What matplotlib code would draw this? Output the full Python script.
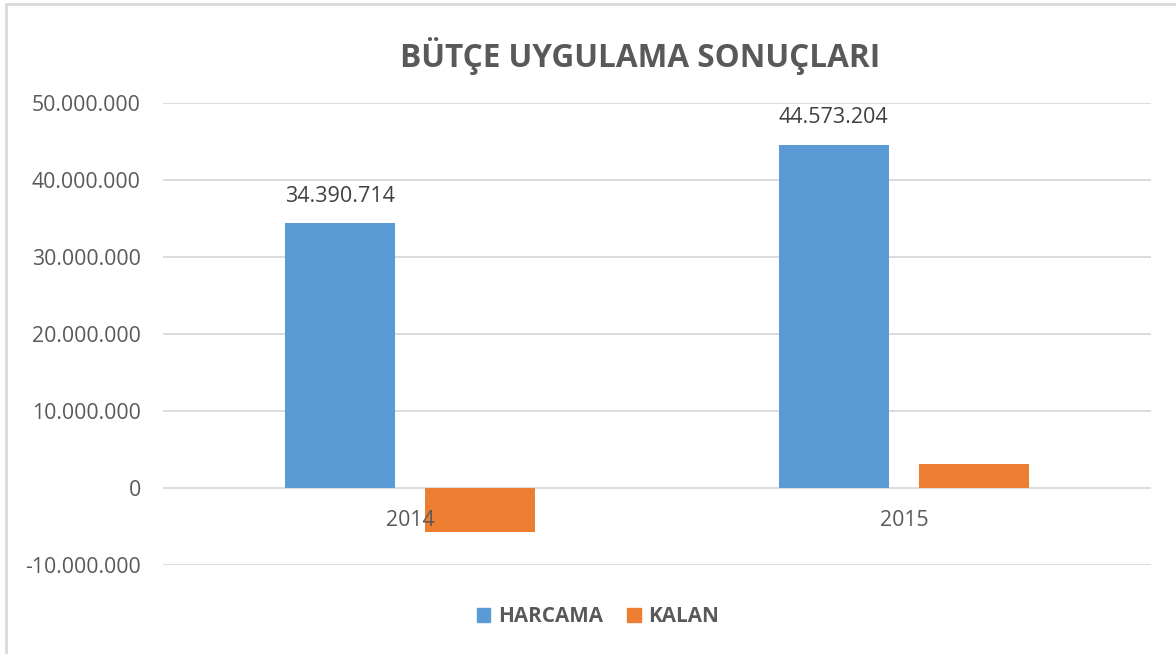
import matplotlib.pyplot as plt
from matplotlib.patches import Patch, Rectangle

years = ["2014", "2015"]
harcama = [34390714, 44573204]
kalan = [-5750000, 3120000]
yticks = [-10000000, 0, 10000000, 20000000, 30000000, 40000000, 50000000]

blue = "#5B9BD5"
orange = "#ED7D31"
grid_col = "#D9D9D9"
text_col = "#595959"

plt.rcParams['font.family'] = ['Open Sans', 'DejaVu Sans']


def fmt(v):
    return f"{v:,}".replace(",", ".")


W, H = 1176, 654
fig = plt.figure(figsize=(W / 100, H / 100), dpi=100)
ax = fig.add_axes([163 / W, (H - 564.6) / H, (1151 - 163) / W, (564.6 - 103.3) / H])
ax.set_axisbelow(False)

x = list(range(len(years)))
bw = 0.223
off = 0.1425
b1 = ax.bar([i - off for i in x], harcama, bw, color=blue, zorder=2)
b2 = ax.bar([i + off for i in x], kalan, bw, color=orange, zorder=2)

for rect, v in zip(b1, harcama):
    ax.annotate(fmt(v), (rect.get_x() + rect.get_width() / 2, v),
                xytext=(0, 12), textcoords="offset points",
                ha="center", va="bottom", fontsize=15.5, color="#404040")

for t in yticks:
    ax.axhline(t, color=grid_col, lw=1.3, zorder=0.5)

ax.set_xlim(-0.5, 1.5)
ax.set_ylim(-10000000, 50000000)
ax.set_yticks(yticks)
ax.set_yticklabels([fmt(t) for t in yticks])
ax.set_xticks(x)
ax.set_xticklabels(years)
ax.spines['bottom'].set_position(('data', 0))
for s in ax.spines.values():
    s.set_visible(False)
ax.tick_params(axis='y', length=0, pad=16, labelsize=15.3, labelcolor=text_col)
ax.tick_params(axis='x', length=0, pad=16, labelsize=15.3, labelcolor=text_col)

fig.text(640 / W, 1 - 56 / H, "BÜTÇE UYGULAMA SONUÇLARI", ha="center", va="center",
         fontsize=22.7, fontweight="bold", color=text_col)

handles = [Patch(color=blue, label="HARCAMA"), Patch(color=orange, label="KALAN")]
fig.legend(handles=handles, loc="center", bbox_to_anchor=(598 / W, 1 - 617 / H), ncol=2,
           frameon=False, handlelength=0.65, handleheight=0.65, handletextpad=0.35,
           columnspacing=1.2, prop={'size': 14.9, 'weight': 'bold'}, labelcolor=text_col)

# chart border (top and left visible, rest cut by image edge)
fig.add_artist(Rectangle((6 / W, -0.1), 1.2, 1 - 4 / H + 0.1, transform=fig.transFigure,
                         fill=False, edgecolor=grid_col, lw=2))

fig.savefig("out.png", dpi=100)
